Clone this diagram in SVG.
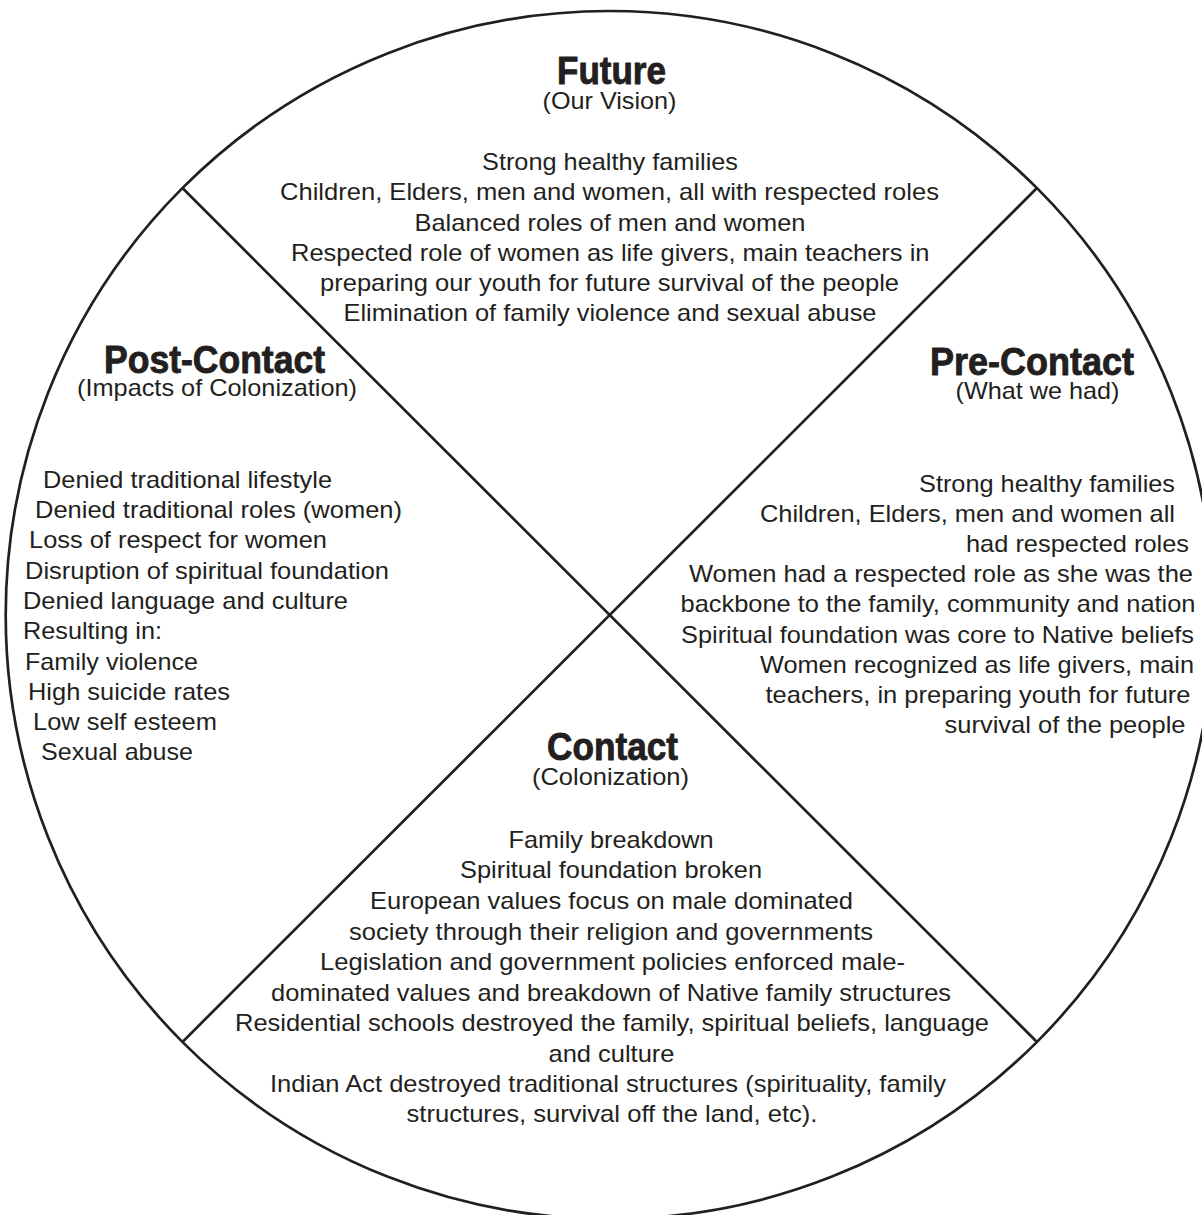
<svg xmlns="http://www.w3.org/2000/svg" width="1202" height="1215" viewBox="0 0 1202 1215">
<style>
.ln{fill:none;stroke:#231f20;stroke-width:2.7}
.t{font-family:"Liberation Sans",Arial,Helvetica,sans-serif;fill:#231f20}
.h{font-size:39px;font-weight:bold;stroke:#231f20;stroke-width:0.9;stroke-linejoin:round}
.b{font-size:24px}
</style>
<rect width="1202" height="1215" fill="#ffffff"/>
<g id="connectors">
<circle class="ln" cx="609.7" cy="615" r="604"/>
<line class="ln" x1="182.7" y1="188.3" x2="1036.7" y2="1041.7"/>
<line class="ln" x1="1036.7" y1="188.3" x2="182.7" y2="1041.7"/>
</g>
<g id="future" class="t">
<text class="h" x="557" y="84" textLength="109" lengthAdjust="spacingAndGlyphs">Future</text>
<text class="b" x="542.5" y="109" textLength="134" lengthAdjust="spacingAndGlyphs">(Our Vision)</text>
<text class="b" x="482" y="170" textLength="256" lengthAdjust="spacingAndGlyphs">Strong healthy families</text>
<text class="b" x="280" y="200" textLength="659" lengthAdjust="spacingAndGlyphs">Children, Elders, men and women, all with respected roles</text>
<text class="b" x="414.5" y="230.5" textLength="391" lengthAdjust="spacingAndGlyphs">Balanced roles of men and women</text>
<text class="b" x="291" y="261" textLength="638.5" lengthAdjust="spacingAndGlyphs">Respected role of women as life givers, main teachers in</text>
<text class="b" x="320" y="291" textLength="579" lengthAdjust="spacingAndGlyphs">preparing our youth for future survival of the people</text>
<text class="b" x="343.5" y="321" textLength="533" lengthAdjust="spacingAndGlyphs">Elimination of family violence and sexual abuse</text>
</g>
<g id="post-contact" class="t">
<text class="h" x="104" y="373" textLength="221" lengthAdjust="spacingAndGlyphs">Post-Contact</text>
<text class="b" x="77" y="396" textLength="280" lengthAdjust="spacingAndGlyphs">(Impacts of Colonization)</text>
<text class="b" x="43" y="488" textLength="289" lengthAdjust="spacingAndGlyphs">Denied traditional lifestyle</text>
<text class="b" x="35" y="518" textLength="367" lengthAdjust="spacingAndGlyphs">Denied traditional roles (women)</text>
<text class="b" x="29" y="548" textLength="298" lengthAdjust="spacingAndGlyphs">Loss of respect for women</text>
<text class="b" x="25" y="579" textLength="364" lengthAdjust="spacingAndGlyphs">Disruption of spiritual foundation</text>
<text class="b" x="23" y="609" textLength="325" lengthAdjust="spacingAndGlyphs">Denied language and culture</text>
<text class="b" x="23" y="639" textLength="139" lengthAdjust="spacingAndGlyphs">Resulting in:</text>
<text class="b" x="25" y="670" textLength="173" lengthAdjust="spacingAndGlyphs">Family violence</text>
<text class="b" x="28" y="700" textLength="202" lengthAdjust="spacingAndGlyphs">High suicide rates</text>
<text class="b" x="33" y="730" textLength="184" lengthAdjust="spacingAndGlyphs">Low self esteem</text>
<text class="b" x="41" y="760" textLength="152" lengthAdjust="spacingAndGlyphs">Sexual abuse</text>
</g>
<g id="pre-contact" class="t">
<text class="h" x="930" y="375" textLength="204" lengthAdjust="spacingAndGlyphs">Pre-Contact</text>
<text class="b" x="955.5" y="399" textLength="164" lengthAdjust="spacingAndGlyphs">(What we had)</text>
<text class="b" x="919" y="491.5" textLength="256" lengthAdjust="spacingAndGlyphs">Strong healthy families</text>
<text class="b" x="760" y="521.5" textLength="415" lengthAdjust="spacingAndGlyphs">Children, Elders, men and women all</text>
<text class="b" x="966" y="551.5" textLength="223" lengthAdjust="spacingAndGlyphs">had respected roles</text>
<text class="b" x="689" y="581.5" textLength="504" lengthAdjust="spacingAndGlyphs">Women had a respected role as she was the</text>
<text class="b" x="680.5" y="611.5" textLength="515" lengthAdjust="spacingAndGlyphs">backbone to the family, community and nation</text>
<text class="b" x="681" y="642.5" textLength="513" lengthAdjust="spacingAndGlyphs">Spiritual foundation was core to Native beliefs</text>
<text class="b" x="760" y="673" textLength="434" lengthAdjust="spacingAndGlyphs">Women recognized as life givers, main</text>
<text class="b" x="765.5" y="703" textLength="425" lengthAdjust="spacingAndGlyphs">teachers, in preparing youth for future</text>
<text class="b" x="944.5" y="733" textLength="241" lengthAdjust="spacingAndGlyphs">survival of the people</text>
</g>
<g id="contact" class="t">
<text class="h" x="547" y="760" textLength="131" lengthAdjust="spacingAndGlyphs">Contact</text>
<text class="b" x="532" y="785" textLength="157" lengthAdjust="spacingAndGlyphs">(Colonization)</text>
<text class="b" x="508.6" y="848" textLength="205" lengthAdjust="spacingAndGlyphs">Family breakdown</text>
<text class="b" x="460" y="878" textLength="302" lengthAdjust="spacingAndGlyphs">Spiritual foundation broken</text>
<text class="b" x="370" y="909" textLength="483" lengthAdjust="spacingAndGlyphs">European values focus on male dominated</text>
<text class="b" x="349" y="940" textLength="524" lengthAdjust="spacingAndGlyphs">society through their religion and governments</text>
<text class="b" x="320" y="970" textLength="585" lengthAdjust="spacingAndGlyphs">Legislation and government policies enforced male-</text>
<text class="b" x="271" y="1001" textLength="680" lengthAdjust="spacingAndGlyphs">dominated values and breakdown of Native family structures</text>
<text class="b" x="235" y="1031" textLength="754" lengthAdjust="spacingAndGlyphs">Residential schools destroyed the family, spiritual beliefs, language</text>
<text class="b" x="548.5" y="1062" textLength="126" lengthAdjust="spacingAndGlyphs">and culture</text>
<text class="b" x="270" y="1092" textLength="676" lengthAdjust="spacingAndGlyphs">Indian Act destroyed traditional structures (spirituality, family</text>
<text class="b" x="406.5" y="1122" textLength="411" lengthAdjust="spacingAndGlyphs">structures, survival off the land, etc).</text>
</g>
</svg>
